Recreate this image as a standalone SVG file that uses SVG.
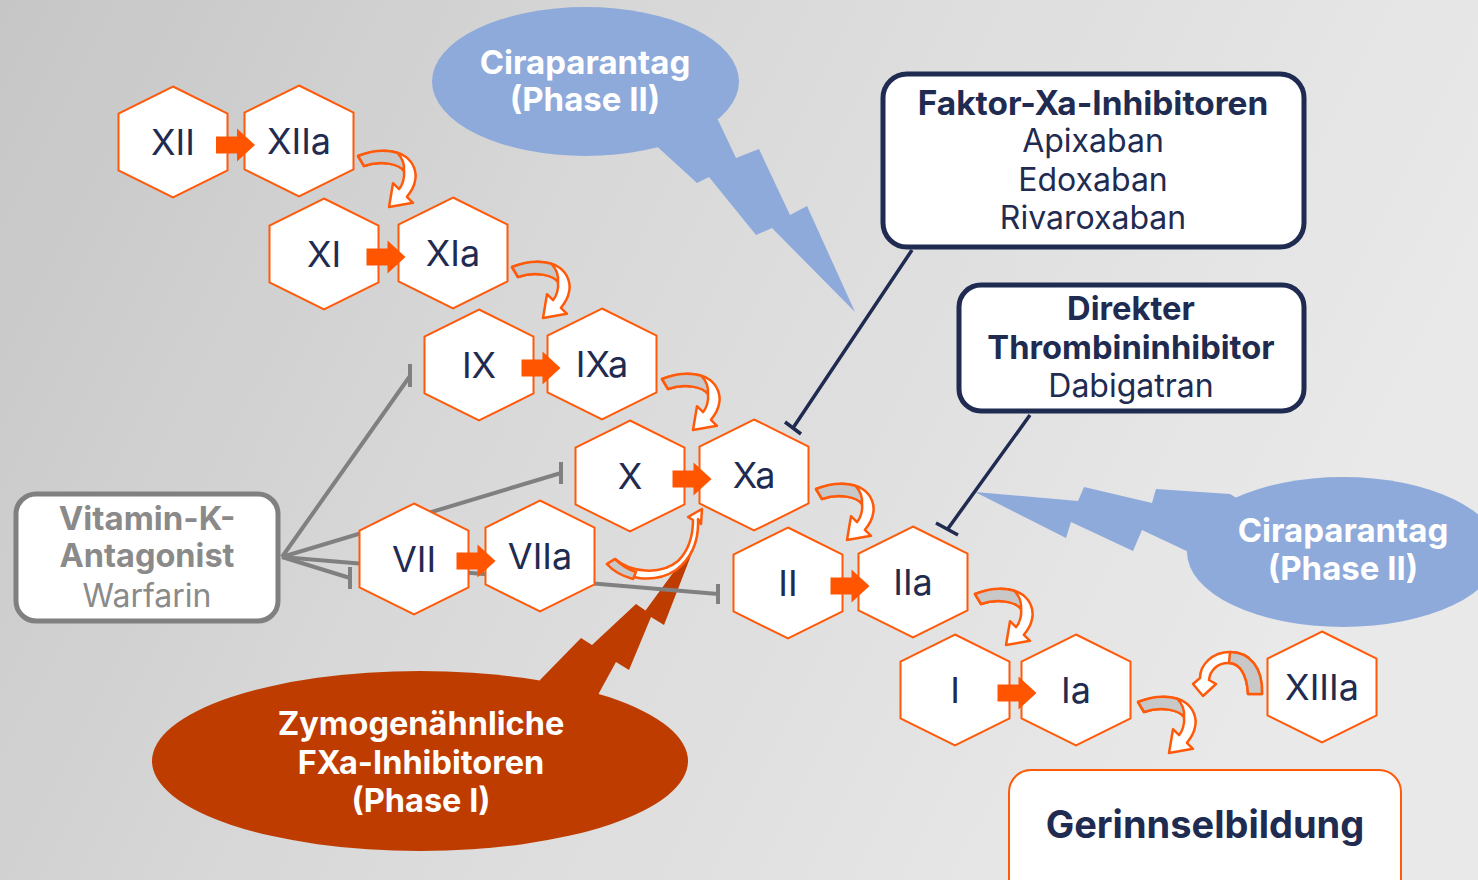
<svg xmlns="http://www.w3.org/2000/svg" width="1478" height="880" viewBox="0 0 1478 880">
<style>
.hex{fill:#fff;stroke:#FF5A0A;stroke-width:2}
.hl{font-family:Inter,"Noto Sans",sans-serif;font-size:36px;fill:#1F2B50;text-anchor:middle}
.bt{font-family:Inter,"Noto Sans",sans-serif;text-anchor:middle}
.b{font-weight:700}
.navy{fill:#1F2B50}
.grey{fill:#8A8A8A}
.white{fill:#fff}
.cw{fill:#fff;stroke:#FF5A0A;stroke-width:2.5;stroke-linejoin:round}
.cg{fill:#C8C8C8;stroke:#FF5A0A;stroke-width:2.5;stroke-linejoin:round}
.ba{fill:#FF5500}
.gl{stroke:#808080;stroke-width:4;fill:none}
.nl{stroke:#1F2B50;stroke-width:3.5;fill:none}
</style>
<defs>
<linearGradient id="bg" x1="0" y1="0" x2="1" y2="0.3">
<stop offset="0" stop-color="#C6C6C6"/>
<stop offset="0.45" stop-color="#D9D9D9"/>
<stop offset="1" stop-color="#E9E9E9"/>
</linearGradient>
<polygon id="hex" class="hex" points="0,-55.5 54.5,-28.5 54.5,28.5 0,55.5 -54.5,28.5 -54.5,-28.5"/>
<path id="barrow" class="ba" d="M -12,-8.5 H 9 V -16.5 L 27,0 L 9,16.5 V 8.5 H -12 Z"/>
<g id="carrow">
<path class="cw" d="M -3,-5 C 12,-11 32,-13 45,-4 C 53,2 56,12 54,20 C 53,27 49,32 45.9,35.9 L 52,41.8 L 28,46 L 32,22.2 L 38.1,28.1 C 41,25 44,17 43,10 C 38,3 20,-1 3,5 Z"/>
<path class="cg" d="M -3,-5 C 9,-9.8 24.2,-12 36.5,-8.1 Q 44,0 43,10 C 38,3 20,-1 3,5 Z"/>
</g>
</defs>
<rect width="1478" height="880" fill="url(#bg)"/>

<g id="callout-ciraparantag-top">
<ellipse cx="585.5" cy="81.5" rx="153.5" ry="74.5" fill="#8EAADB"/>
<polygon fill="#8EAADB" points="650,140 697,183 709,177 756,235 772,228 855,312 807,206 790,215 759,149 736,158 718,120 710,115"/>
<text class="bt b white" x="585" y="74" font-size="33">Ciraparantag</text>
<text class="bt b white" x="585" y="111" font-size="33">(Phase II)</text>
</g>
<g id="callout-ciraparantag-right">
<ellipse cx="1343" cy="552" rx="156" ry="75" fill="#8EAADB"/>
<polygon fill="#8EAADB" points="1240,500 1230,494 1156,489 1152,503 1084,487 1078,501 975,492 1066,538 1071,522 1133,551 1142,530 1195,555"/>
<text class="bt b white" x="1343" y="542" font-size="33">Ciraparantag</text>
<text class="bt b white" x="1343" y="580" font-size="33">(Phase II)</text>
</g>
<g id="callout-zymogen">
<ellipse cx="420" cy="761" rx="268" ry="90" fill="#BF3C00"/>
<polygon fill="#BF3C00" points="545,700 540,680 581,638 592,645 636,604 645.5,610.5 697,540 664,625 651,617 629,670 616,662 599,693 595,705"/>
<text class="bt b white" x="421" y="735" font-size="32.5">Zymogenähnliche</text>
<text class="bt b white" x="421" y="774" font-size="32.5">FXa-Inhibitoren</text>
<text class="bt b white" x="421" y="812" font-size="32.5">(Phase I)</text>
</g>

<g id="connectors-inhibition">
<path class="gl" d="M282,557 L410,376 M410,364 V387"/>
<path class="gl" d="M282,557 L561,473 M561,462 V484"/>
<path class="gl" d="M282,557 L350,578 M350,567 V589"/>
<path class="gl" d="M282,557 L718,594 M718,584 V604"/>
</g>

<g id="n-XII"><use href="#hex" x="173" y="142"/><text class="hl" x="173" y="155">XII</text></g>
<g id="n-XIIa"><use href="#hex" x="299" y="141"/><text class="hl" x="299" y="154">XIIa</text></g>
<g id="n-XI"><use href="#hex" x="324" y="254"/><text class="hl" x="324" y="267">XI</text></g>
<g id="n-XIa"><use href="#hex" x="453" y="253"/><text class="hl" x="453" y="266">XIa</text></g>
<g id="n-IX"><use href="#hex" x="479" y="365"/><text class="hl" x="479" y="378">IX</text></g>
<g id="n-IXa"><use href="#hex" x="602" y="364"/><text class="hl" x="602" y="377">IXa</text></g>
<g id="n-X"><use href="#hex" x="630" y="476"/><text class="hl" x="630" y="489">X</text></g>
<g id="n-Xa"><use href="#hex" x="754" y="475"/><text class="hl" x="754" y="488">Xa</text></g>
<g id="n-VII"><use href="#hex" x="414" y="559"/><text class="hl" x="414" y="572">VII</text></g>
<g id="n-VIIa"><use href="#hex" x="540" y="556"/><text class="hl" x="540" y="569">VIIa</text></g>
<g id="n-II"><use href="#hex" x="788" y="583"/><text class="hl" x="788" y="596">II</text></g>
<g id="n-IIa"><use href="#hex" x="913" y="582"/><text class="hl" x="913" y="595">IIa</text></g>
<g id="n-I"><use href="#hex" x="955" y="690"/><text class="hl" x="955" y="703">I</text></g>
<g id="n-Ia"><use href="#hex" x="1076" y="690"/><text class="hl" x="1076" y="703">Ia</text></g>
<g id="n-XIIIa"><use href="#hex" x="1322" y="687"/><text class="hl" x="1322" y="700">XIIIa</text></g>

<g id="box-vka">
<rect x="16" y="494" width="262" height="127" rx="20" fill="#fff" stroke="#808080" stroke-width="5"/>
<text class="bt b grey" x="147" y="530" font-size="33">Vitamin-K-</text>
<text class="bt b grey" x="147" y="567" font-size="32.5">Antagonist</text>
<text class="bt grey" x="147" y="607" font-size="32">Warfarin</text>
</g>
<g id="box-fxa">
<rect x="883" y="74" width="421" height="173" rx="24" fill="#fff" stroke="#1F2B50" stroke-width="5"/>
<text class="bt b navy" x="1093" y="115" font-size="33.4">Faktor-Xa-Inhibitoren</text>
<text class="bt navy" x="1093" y="152" font-size="32">Apixaban</text>
<text class="bt navy" x="1093" y="191" font-size="32">Edoxaban</text>
<text class="bt navy" x="1093" y="229" font-size="32">Rivaroxaban</text>
</g>
<g id="box-dti">
<rect x="959" y="285" width="345" height="126" rx="22" fill="#fff" stroke="#1F2B50" stroke-width="5"/>
<text class="bt b navy" x="1131" y="320" font-size="32.7">Direkter</text>
<text class="bt b navy" x="1131" y="359" font-size="32.7">Thrombininhibitor</text>
<text class="bt navy" x="1131" y="397" font-size="32">Dabigatran</text>
</g>
<g id="box-clot">
<rect x="1009" y="770" width="392" height="140" rx="22" fill="#fff" stroke="#FF5A0A" stroke-width="2"/>
<text class="bt b navy" x="1205" y="838" font-size="38">Gerinnselbildung</text>
</g>

<g id="connectors">
<path class="nl" d="M912,250 L793,428 M785,422 L801,434"/>
<path class="nl" d="M1030,415 L947,530 M936,523 L958,535"/>
<use href="#barrow" x="228" y="145"/>
<use href="#barrow" x="378.5" y="257"/>
<use href="#barrow" x="533.5" y="368"/>
<use href="#barrow" x="684.5" y="479"/>
<use href="#barrow" x="468.5" y="561"/>
<use href="#barrow" x="842.5" y="586"/>
<use href="#barrow" x="1009.5" y="693"/>
<use href="#carrow" x="361" y="161"/>
<use href="#carrow" x="515" y="272"/>
<use href="#carrow" x="665" y="384"/>
<use href="#carrow" x="819" y="494"/>
<use href="#carrow" x="978" y="599"/>
<use href="#carrow" x="1141" y="707"/>
<path class="cw" d="M 615,559 C 630,572 660,576 678,561 C 689,550 693,535 693,520 L 688,517 L 702,509 L 701,524 L 698,519 C 699,540 692,558 676,570 C 655,584 625,580 607,564 Z"/>
<path class="cg" d="M 615,559 C 622,566 630,570 636,572 L 633,579 C 622,576 613,571 607,564 Z"/>
<path class="cw" d="M 1248,694 L 1262,694 C 1263,668 1250,652 1230,652 C 1212,652 1200,665 1200,678 L 1193,684 L 1203,696 L 1216,684 L 1209,680 C 1210,670 1218,663 1228,663 C 1240,663 1247,675 1248,694 Z"/>
<path class="cg" d="M 1248,694 L 1262,694 C 1263,668 1250,652 1230,652 L 1229,663 C 1240,663 1247,675 1248,694 Z"/>
</g>
</svg>
